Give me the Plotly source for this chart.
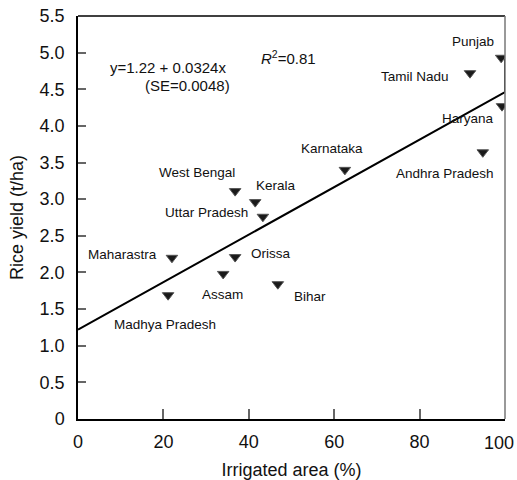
import plotly.graph_objects as go

# Rice yield vs irrigated area, Indian states
states = ["Punjab", "Tamil Nadu", "Haryana", "Andhra Pradesh", "Karnataka",
          "Kerala", "Uttar Pradesh", "West Bengal", "Orissa", "Maharastra",
          "Assam", "Madhya Pradesh", "Bihar"]
irrigated = [99.1, 91.8, 99.3, 94.8, 62.5, 41.5, 43.3, 36.8, 36.8, 22.0, 34.0, 21.1, 46.8]
rice_yield = [4.93, 4.72, 4.27, 3.64, 3.40, 2.96, 2.76, 3.11, 2.21, 2.20, 1.98, 1.69, 1.84]

# Fitted regression
intercept = 1.22
slope = 0.0324
se_slope = 0.0048
r2 = 0.81

x_ticks = [0, 20, 40, 60, 80]
x_last_tick = [100]  # labelled on a helper axis so it stays inside the page
y_ticks = [0, 0.5, 1.0, 1.5, 2.0, 2.5, 3.0, 3.5, 4.0, 4.5, 5.0, 5.5]
y_ticktext = ["0"] + [f"{v:.1f}" for v in y_ticks[1:]]

# label offsets (pixels) relative to each state's marker
label_offsets = {
    "Punjab": (-28, 16), "Tamil Nadu": (-55, -3), "Haryana": (-34, -12),
    "Andhra Pradesh": (-38, -21), "Karnataka": (-13, 21), "Kerala": (21, 17),
    "Uttar Pradesh": (-56, 4), "West Bengal": (-38, 19), "Orissa": (35, 4),
    "Maharastra": (-49, 3), "Assam": (-1, -21), "Madhya Pradesh": (-3, -29),
    "Bihar": (32, -12),
}

font = "Liberation Sans, Arial, Helvetica, sans-serif"

fig = go.Figure()

# regression line, closing up to the Punjab point at the right edge
x_end = 100
punjab_y = rice_yield[states.index("Punjab")]
fig.add_trace(go.Scatter(
    x=[0, x_end, x_end],
    y=[intercept, intercept + slope * x_end, punjab_y],
    mode="lines", line=dict(color="black", width=2), hoverinfo="skip",
))

fig.add_trace(go.Scatter(
    x=irrigated, y=rice_yield, mode="markers", text=states,
    marker=dict(symbol="triangle-down", size=10, color="#1a1a1a",
                line=dict(color="#555", width=1)),
))

annotations = []
for s, xv, yv in zip(states, irrigated, rice_yield):
    dx, dy = label_offsets[s]
    annotations.append(dict(x=xv, y=yv, text=s, showarrow=False,
                            xshift=dx, yshift=dy,
                            font=dict(size=13.5, color="#111", family=font)))

annotations += [
    dict(x=21.0, y=4.80, text=f"y={intercept:.2f} + {slope:.4f}x", showarrow=False,
         font=dict(size=15, color="#111", family=font)),
    dict(x=25.6, y=4.55, text=f"(SE={se_slope:.4f})", showarrow=False,
         font=dict(size=15, color="#111", family=font)),
    dict(x=49.4, y=4.94, text=f"<i>R</i><sup>2</sup>={r2:.2f}",
         showarrow=False, font=dict(size=15, color="#111", family=font)),
]

fig.update_layout(
    width=517, height=480,
    margin=dict(l=78, r=12, t=16, b=61),
    paper_bgcolor="white", plot_bgcolor="white",
    showlegend=False,
    font=dict(family=font, color="#111"),
    annotations=annotations,
    shapes=[
        dict(type="line", xref="x domain", yref="y domain", x0=0, x1=1, y0=1, y1=1,
             line=dict(color="black", width=1.5)),
        dict(type="line", xref="x domain", yref="y domain", x0=1, x1=1, y0=0, y1=1,
             line=dict(color="#777", width=1.5)),
    ],
    xaxis=dict(
        range=[0, 100], tickvals=x_ticks + x_last_tick,
        ticktext=[str(v) for v in x_ticks] + [""],
        ticks="inside", ticklen=10, tickwidth=1.5, tickcolor="#666",
        showgrid=False, zeroline=False, showline=True, linecolor="black",
        linewidth=1.5, automargin=False, ticklabelstandoff=6,
        tickfont=dict(size=18, family=font),
        title=dict(text="Irrigated area (%)", font=dict(size=18, family=font),
                   standoff=16),
    ),
    xaxis2=dict(
        range=[0, 100], overlaying="x", anchor="y", side="bottom",
        tickvals=x_last_tick, ticktext=[str(v) for v in x_last_tick],
        ticks="", showgrid=False, zeroline=False, showline=False,
        automargin=False, ticklabelposition="outside left", ticklabelshift=9,
        ticklabelstandoff=11, tickfont=dict(size=18, family=font),
    ),
    yaxis=dict(
        range=[0, 5.5], tickvals=y_ticks, ticktext=y_ticktext, ticks="inside",
        ticklen=8, tickwidth=1.5, tickcolor="#666", showgrid=False,
        zeroline=False, showline=True, linecolor="black", linewidth=1.5,
        tickfont=dict(size=18, family=font), ticklabelstandoff=8, automargin=False,
        title=dict(text="Rice yield (t/ha)", font=dict(size=18, family=font),
                   standoff=11),
    ),
)

# helper trace so the second x axis is laid out
fig.add_trace(go.Scatter(x=[], y=[], xaxis="x2", yaxis="y", showlegend=False))

fig.write_html("out.html")
